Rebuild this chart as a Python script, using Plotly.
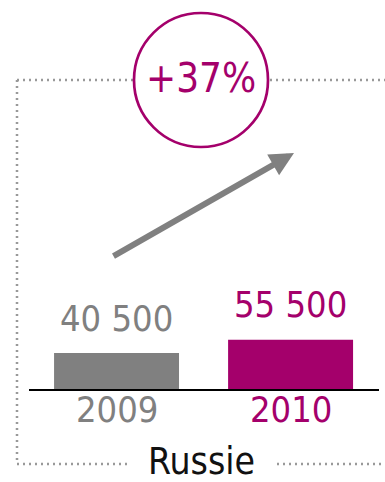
import plotly.graph_objects as go

years = ["2009", "2010"]
values = [40500, 55500]
value_labels = ["40 500", "55 500"]
growth_label = "+37%"
region_label = "Russie"

GRAY = "#808080"
MAG = "#A4006B"
colors = [GRAY, MAG]
FONT = "DejaVu Sans Condensed, Liberation Sans Narrow, sans-serif"

W, H = 385, 482
ML, MR, MT, MB = 29, 6, 0, 93
PW, PH = W - ML - MR, H - MT - MB


def px(xp):
    return (xp - ML) / PW


def py(yp):
    return (H - MB - yp) / PH


fig = go.Figure()
fig.add_trace(go.Bar(x=[0, 1], y=values, marker_color=colors, width=0.718,
                     marker_line_width=0, hoverinfo="skip"))

annotations = []
for i, (v, lab, c) in enumerate(zip(values, value_labels, colors)):
    annotations.append(dict(x=i, y=v, xref="x", yref="y", text=lab, showarrow=False,
                            yanchor="middle", yshift=35,
                            font=dict(family=FONT, size=36, color=c)))
    annotations.append(dict(x=i, y=0, xref="x", yref="y", text=years[i], showarrow=False,
                            yanchor="middle", yshift=-20,
                            font=dict(family=FONT, size=36, color=c)))

annotations.append(dict(x=px(201), y=py(461), xref="paper", yref="paper", text=region_label,
                        showarrow=False, yanchor="middle", xanchor="center",
                        font=dict(family=FONT, size=37, color="#111111")))
annotations.append(dict(x=px(201), y=py(78), xref="paper", yref="paper", text=growth_label,
                        showarrow=False, yanchor="middle", xanchor="center",
                        font=dict(family=FONT, size=40, color=MAG)))
# arrow
annotations.append(dict(x=px(294), y=py(153), xref="paper", yref="paper", text="",
                        showarrow=True, ax=112 - 294, ay=257 - 153,
                        arrowhead=2, arrowsize=0.8, arrowwidth=6, arrowcolor=GRAY))

shapes = []
dot = dict(color="#999999", width=2.5, dash="2px,4px")
for (x0, y0, x1, y1) in [(17, 80, 133, 80), (270, 80, 385, 80), (17, 80, 17, 464),
                         (17, 464, 127, 464), (277, 464, 385, 464)]:
    shapes.append(dict(type="line", xref="paper", yref="paper",
                       x0=px(x0), y0=py(y0), x1=px(x1), y1=py(y1), line=dot))
shapes.append(dict(type="circle", xref="paper", yref="paper",
                   x0=px(201 - 67), x1=px(201 + 67), y0=py(80 + 67), y1=py(80 - 67),
                   line=dict(color=MAG, width=2.7)))

fig.update_layout(
    width=W, height=H, margin=dict(l=ML, r=MR, t=MT, b=MB),
    paper_bgcolor="white", plot_bgcolor="white", showlegend=False,
    annotations=annotations, shapes=shapes,
    xaxis=dict(range=[-0.503, 1.508], showticklabels=False, showgrid=False, zeroline=False,
               showline=True, linecolor="black", linewidth=1.5, fixedrange=True),
    yaxis=dict(range=[0, PH / 0.000886], visible=False, showgrid=False, fixedrange=True),
)

fig.write_html("out.html")
